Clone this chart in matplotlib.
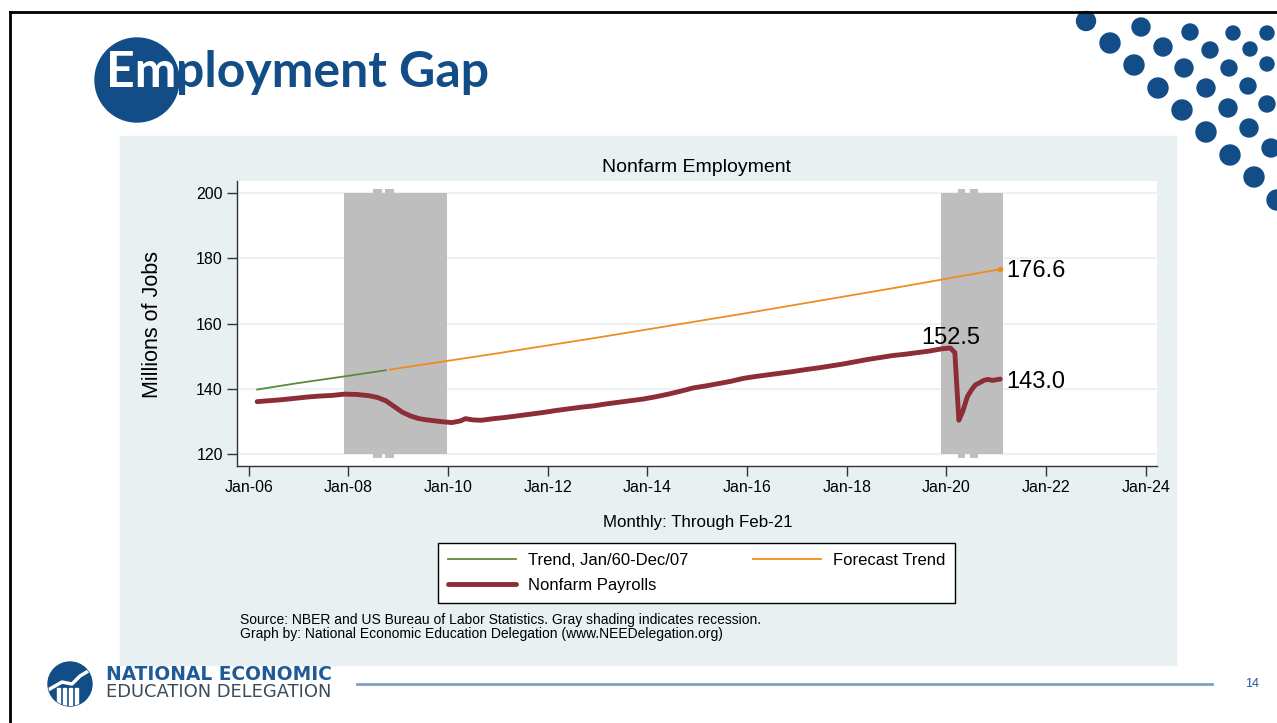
import matplotlib
matplotlib.use('Agg')
import matplotlib.pyplot as plt
from matplotlib.patches import Circle, Rectangle

# nonfarm payrolls, millions (decimal years)
pay_dates = [2006.17, 2006.42, 2006.67, 2006.92, 2007.17, 2007.42, 2007.67, 2007.92,
             2008.17, 2008.42, 2008.58, 2008.75, 2008.92, 2009.08, 2009.25, 2009.42,
             2009.58, 2009.75, 2009.92, 2010.08, 2010.25, 2010.35, 2010.50, 2010.67,
             2010.92, 2011.17, 2011.42, 2011.67, 2011.92, 2012.17, 2012.42, 2012.67,
             2012.92, 2013.17, 2013.42, 2013.67, 2013.92, 2014.17, 2014.42, 2014.67,
             2014.92, 2015.17, 2015.42, 2015.67, 2015.92, 2016.17, 2016.42, 2016.67,
             2016.92, 2017.17, 2017.42, 2017.67, 2017.92, 2018.17, 2018.42, 2018.67,
             2018.92, 2019.17, 2019.42, 2019.67, 2019.92, 2020.08, 2020.17, 2020.25,
             2020.33, 2020.42, 2020.50, 2020.58, 2020.67, 2020.75, 2020.83, 2020.92,
             2021.00, 2021.08]
pay_values = [136.1, 136.4, 136.7, 137.1, 137.5, 137.8, 138.0, 138.4,
              138.3, 137.9, 137.4, 136.4, 134.6, 132.9, 131.7, 130.9,
              130.5, 130.2, 129.9, 129.7, 130.2, 130.9, 130.5, 130.4,
              130.9, 131.3, 131.8, 132.3, 132.8, 133.4, 133.9, 134.4,
              134.8, 135.4, 135.9, 136.4, 136.9, 137.6, 138.4, 139.3,
              140.3, 140.9, 141.6, 142.3, 143.2, 143.8, 144.3, 144.8,
              145.3, 145.9, 146.4, 147.0, 147.6, 148.3, 149.0, 149.6,
              150.2, 150.6, 151.1, 151.6, 152.3, 152.5, 151.1, 130.4,
              133.2, 137.6, 139.6, 141.2, 141.9, 142.6, 142.9, 142.6,
              142.8, 143.0]

# trend fitted on Jan/60-Dec/07 and its extension
trend_dates = [2006.17, 2007.0, 2008.0, 2008.75]
trend_values = [139.8, 141.8, 144.0, 145.7]
fcst_dates = [2008.83, 2010, 2011, 2012, 2013, 2014, 2015, 2016, 2017, 2018,
              2019, 2020, 2021.08]
fcst_values = [145.9, 148.6, 150.9, 153.3, 155.7, 158.2, 160.7, 163.2, 165.8,
               168.4, 171.0, 173.7, 176.6]

# recessions (gray bands) and the little tabs drawn on them
rec_start = [2007.92, 2019.89]
rec_end = [2009.97, 2021.13]
tab_start = [2008.49, 2008.74, 2020.23, 2020.47]
tab_end = [2008.67, 2008.91, 2020.38, 2020.64]

xtick_years = [2006, 2008, 2010, 2012, 2014, 2016, 2018, 2020, 2022, 2024]
xtick_labels = ['Jan-06', 'Jan-08', 'Jan-10', 'Jan-12', 'Jan-14', 'Jan-16',
                'Jan-18', 'Jan-20', 'Jan-22', 'Jan-24']
yticks = [120, 140, 160, 180, 200]

navy = '#124D88'
panel = '#E9F0F2'
shade = '#BEBEBE'
red = '#8C2D37'
orange = '#F08C1E'
green = '#5A8A3C'
plt.rcParams['font.family'] = ['Liberation Sans', 'DejaVu Sans']

fig = plt.figure(figsize=(12.77, 7.23), dpi=100)

# slide background in pixel coordinates
bg = fig.add_axes([0, 0, 1, 1], zorder=0)
bg.set_xlim(0, 1277)
bg.set_ylim(723, 0)
bg.axis('off')

bg.plot([10, 1277], [12, 12], color='black', lw=2)
bg.plot([10, 10], [12, 723], color='black', lw=2)

# title: white "Em" on the circle, rest in blue right after it
bg.add_patch(Circle((137, 80), 42, color=navy))
t_em = bg.text(106, 95, 'Em', fontsize=36, fontweight='bold', color='white',
               family='Lato', va='bottom', ha='left')
bg.annotate('ployment Gap', xy=(1, 0), xycoords=t_em, fontsize=36, fontweight='bold',
            color=navy, family='Lato', va='bottom', ha='left')

# dot pattern top right
dots = [(1086, 21, 9.5), (1110, 43, 10), (1134, 65, 10), (1158, 88, 10),
        (1182, 110, 10), (1206, 132, 10), (1230, 155, 10), (1254, 177, 10),
        (1277, 200, 10),
        (1141, 27, 9), (1163, 47, 9), (1184, 68, 9), (1206, 88, 9),
        (1228, 108, 9), (1249, 128, 9), (1271, 148, 9),
        (1190, 32, 8), (1210, 50, 8), (1229, 68, 8), (1248, 86, 8), (1267, 104, 8),
        (1233, 33, 7), (1250, 49, 7), (1267, 64, 7), (1267, 33, 7)]
for x, y, r in dots:
    bg.add_patch(Circle((x, y), r, color=navy))

# light panel behind the graph
bg.add_patch(Rectangle((120, 136), 1056, 529, color=panel))

# footer
logo = Circle((70, 684), 22, color=navy)
bg.add_patch(logo)
for bx in [57, 63, 69, 75]:
    bar = Rectangle((bx, 688), 3, 20, color='white')
    bg.add_patch(bar)
    bar.set_clip_path(logo)
arrow, = bg.plot([48, 62, 72, 80, 90], [690, 682, 684, 676, 670], color='white', lw=2.5)
arrow.set_clip_path(logo)
bg.text(106, 674, 'NATIONAL ECONOMIC', fontsize=13.4, fontweight='bold', color='#1F5B98',
        family='DejaVu Sans', va='center', ha='left')
bg.text(106, 692, 'EDUCATION DELEGATION', fontsize=12.9, color='#3D4B57',
        family='DejaVu Sans', va='center', ha='left')
bg.plot([357, 1212], [684, 684], color='#7F9FC4', lw=2)
bg.text(1252, 684, '14', fontsize=9, color='#1F5B98', va='center', ha='center')

# graph texts
bg.text(697, 167, 'Nonfarm Employment', fontsize=14, ha='center', va='center')
bg.text(152, 324, 'Millions of Jobs', fontsize=15.5, rotation=90, ha='center', va='center')
bg.text(698, 523, 'Monthly: Through Feb-21', fontsize=12.2, ha='center', va='center')
bg.text(240, 620, 'Source: NBER and US Bureau of Labor Statistics. Gray shading indicates recession.',
        fontsize=10, ha='left', va='center')
bg.text(240, 634, 'Graph by: National Economic Education Delegation (www.NEEDelegation.org)',
        fontsize=10, ha='left', va='center')

# the graph itself
ax = fig.add_axes([236.7 / 1277, 1 - 465.7 / 723, 920 / 1277, 285 / 723], zorder=1)
ax.set_facecolor('white')
ax.set_xlim(2005.76, 2024.22)
ax.set_ylim(116.5, 203.7)

for s, e in zip(rec_start, rec_end):
    ax.fill_between([s, e], 120, 200, color=shade, lw=0, zorder=1)
for s, e in zip(tab_start, tab_end):
    ax.fill_between([s, e], 119.0, 201.3, color=shade, lw=0, zorder=1)

ax.plot(trend_dates, trend_values, color=green, lw=1.3, zorder=3, label='Trend, Jan/60-Dec/07')
ax.plot(pay_dates, pay_values, color=red, lw=3.5, zorder=4, label='Nonfarm Payrolls',
        solid_capstyle='round', solid_joinstyle='round')
ax.plot(fcst_dates, fcst_values, color=orange, lw=1.3, zorder=3, label='Forecast Trend')
ax.plot(fcst_dates[-1], fcst_values[-1], 'o', color=orange, ms=3, zorder=3)

ipeak = pay_values.index(max(pay_values))
ax.annotate('%.1f' % pay_values[ipeak], xy=(pay_dates[ipeak], pay_values[ipeak]),
            xytext=(0, -1), textcoords='offset points', ha='center', va='bottom', fontsize=17)
ax.annotate('%.1f' % fcst_values[-1], xy=(fcst_dates[-1], fcst_values[-1]),
            xytext=(4, -1.5), textcoords='offset points', ha='left', va='center', fontsize=17)
ax.annotate('%.1f' % pay_values[-1], xy=(pay_dates[-1], pay_values[-1]),
            xytext=(4, -2), textcoords='offset points', ha='left', va='center', fontsize=17)

ax.set_xticks(xtick_years)
ax.set_xticklabels(xtick_labels)
ax.set_yticks(yticks)
ax.tick_params(direction='out', length=7, width=1, color='#333333', labelsize=11.5, pad=3)
ax.yaxis.grid(True, color='#EAF2F3', lw=1.5)
ax.set_axisbelow(True)
for side in ['top', 'right']:
    ax.spines[side].set_visible(False)
for side in ['left', 'bottom']:
    ax.spines[side].set_color('#333333')
    ax.spines[side].set_linewidth(1)

leg = ax.legend(ncol=2, loc='upper left', bbox_to_anchor=(438 / 1277, 1 - 543 / 723),
                bbox_transform=fig.transFigure, fontsize=12, frameon=True, fancybox=False,
                edgecolor='black', framealpha=1, handlelength=4.1, handletextpad=0.7,
                columnspacing=3.85, borderpad=0.6, labelspacing=0.6, borderaxespad=0)
leg.get_frame().set_linewidth(1)

fig.savefig('out.png', dpi=100)
